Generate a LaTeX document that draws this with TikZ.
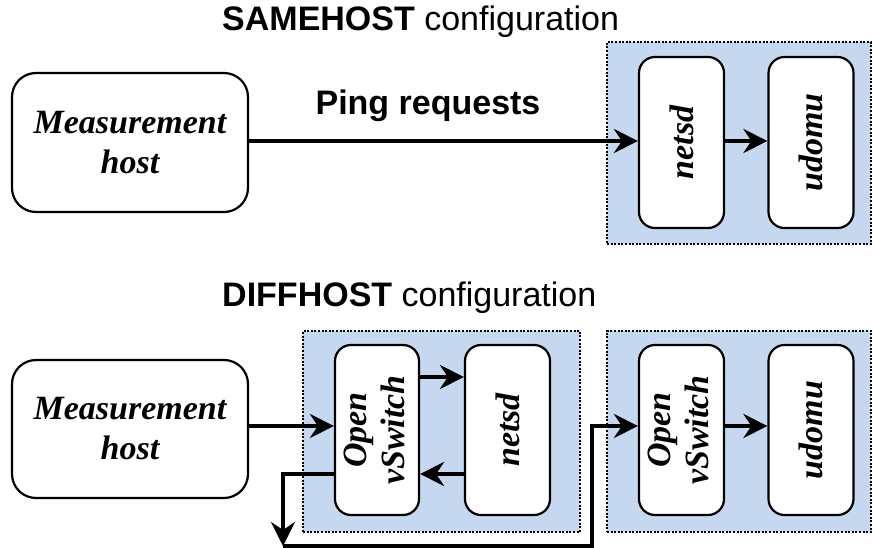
\documentclass[tikz,border=0pt]{standalone}
\usepackage{fontspec}
\setmainfont{Liberation Serif}
\setsansfont{Liberation Sans}
\usetikzlibrary{arrows.meta}
\definecolor{contblue}{RGB}{198,216,240}
\tikzset{
  box/.style={draw=black, line width=2.2pt, rounded corners=20pt, fill=white, align=center,
    font=\bfseries\itshape\fontsize{34}{40}\selectfont, inner sep=0pt},
  vbox/.style={box, minimum width=85pt, minimum height=171pt, rounded corners=16pt},
  hostbox/.style={box, minimum width=236pt, minimum height=139pt, rounded corners=24pt},
  container/.style={draw=black, fill=contblue, line width=2pt, dash pattern=on 2pt off 1.6pt, inner sep=0pt},
  arr/.style={line width=4pt, -{Stealth[length=24pt, width=24pt, inset=8pt]}},
  title/.style={font=\sffamily\fontsize{34}{40}\selectfont, anchor=west, inner sep=0pt},
  lbl/.style={font=\sffamily\bfseries\fontsize{34}{40}\selectfont, inner sep=0pt}
}
\begin{document}
\begin{tikzpicture}[x=1pt,y=-1pt]
\useasboundingbox (0,0) rectangle (873,548);
% titles
\node[title] (t1) at (222,22) {\textbf{SAMEHOST} configuration};
\node[title] (t2) at (222,298) {\textbf{DIFFHOST} configuration};
% top
\node[container, minimum width=264pt, minimum height=202pt] (ca) at (739,143) {};
\node[hostbox] (mh1) at (130,142.5) {Measurement\\host};
\node[vbox] (netsdA) at (681.5,142.5) {\rotatebox{90}{netsd}};
\node[vbox] (udomuA) at (811,142.5) {\rotatebox{90}{udomu}};
\draw[arr] (mh1.east |- 0,141) -- (netsdA.west |- 0,141);
\node[lbl] (ping) at (428,106) {Ping requests};
\draw[arr] (netsdA.east |- 0,141) -- (udomuA.west |- 0,141);
% bottom
\node[container, minimum width=277pt, minimum height=201pt] (cb1) at (441.5,431.5) {};
\node[container, minimum width=264pt, minimum height=201pt] (cb2) at (739,431.5) {};
\node[hostbox, minimum height=138pt] (mh2) at (130,429) {Measurement\\host};
\node[vbox, minimum width=84pt, minimum height=170pt] (ovs1) at (377,430) {\rotatebox{90}{\begin{tabular}{@{}c@{}}Open\\[-2pt]vSwitch\end{tabular}}};
\node[vbox, minimum height=170pt] (netsdB) at (507.5,430) {\rotatebox{90}{netsd}};
\node[vbox, minimum height=170pt] (ovs2) at (681.5,430) {\rotatebox{90}{\begin{tabular}{@{}c@{}}Open\\[-2pt]vSwitch\end{tabular}}};
\node[vbox, minimum height=170pt] (udomuB) at (811,430) {\rotatebox{90}{udomu}};
\draw[arr] (mh2.east |- 0,426) -- (ovs1.west |- 0,426);
\draw[arr] (ovs1.east |- 0,377) -- (netsdB.west |- 0,377);
\draw[arr] (netsdB.west |- 0,474) -- (ovs1.east |- 0,474);
\coordinate (d1) at (283,546);
\coordinate (d2) at (592,546);
\draw[arr] (ovs1.west |- 0,474) -| (d1);
\draw[arr] (d1) -- (d2) |- (ovs2.west |- 0,426);
\draw[arr] (ovs2.east |- 0,426) -- (udomuB.west |- 0,426);
\end{tikzpicture}
\end{document}
